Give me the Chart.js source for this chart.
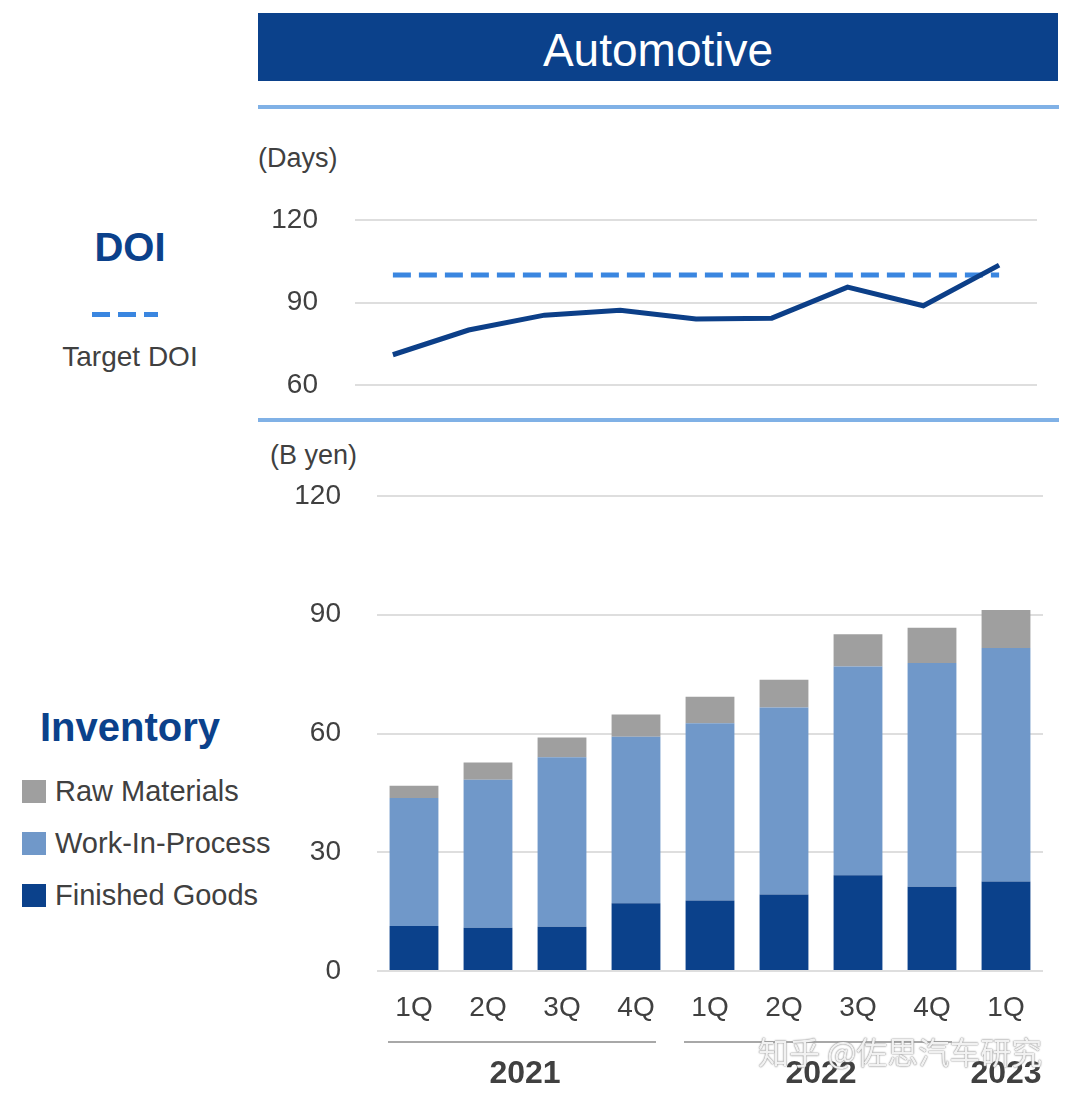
<!DOCTYPE html>
<html>
<head>
<meta charset="utf-8">
<script src="https://cdn.jsdelivr.net/npm/chart.js@4.4.0/dist/chart.umd.min.js"></script>
<style>
  body { margin: 0; background: #fff; width: 1080px; height: 1098px; position: relative; overflow: hidden;
         font-family: "Liberation Sans", Arial, sans-serif; color: #404040; }
  .abs { position: absolute; }
  #header { left: 258px; top: 13px; width: 800px; height: 68px; background: #0b418b; color: #fff;
            font-size: 46px; line-height: 74px; text-align: center; }
  .sep { left: 258px; width: 801px; height: 4px; background: #80b1e6; }
  .unit { font-size: 27px; }
  .ttl { font-weight: bold; color: #0b418b; font-size: 40px; text-align: center; width: 260px; left: 0; }
  .leg { left: 22px; font-size: 29px; }
  .leg span { display: inline-block; width: 24px; height: 23px; vertical-align: middle; margin-right: 9px; margin-top: -4px; }
  #wm { left: 758px; top: 1028px; font-family: "Noto Sans CJK SC", sans-serif; font-size: 31px; color: rgba(255,255,255,0.9);
        text-shadow: 0 0 1px #777, 0 0 2px #999; z-index: 5; }
</style>
</head>
<body>

<div id="header" class="abs">Automotive</div>
<div class="abs sep" style="top:105px"></div>
<div class="abs sep" style="top:418px"></div>

<div class="abs unit" style="left:258px; top:143px">(Days)</div>
<div class="abs unit" style="left:270px; top:440px">(B yen)</div>

<div class="abs ttl" style="top:225px">DOI</div>
<div class="abs" style="left:92px; top:312px; width:66px; height:5px;
     background: repeating-linear-gradient(to right, #3a86e0 0 18px, transparent 18px 26px);"></div>
<div class="abs" style="left:0; width:260px; text-align:center; top:341px; font-size:28px">Target DOI</div>

<div class="abs ttl" style="top:705px">Inventory</div>
<div class="abs leg" style="top:775px"><span style="background:#9f9f9f"></span>Raw Materials</div>
<div class="abs leg" style="top:827px"><span style="background:#7098c9"></span>Work-In-Process</div>
<div class="abs leg" style="top:879px"><span style="background:#0b418b"></span>Finished Goods</div>

<canvas id="doiChart" class="abs" style="left:250px; top:200px" width="800" height="200"></canvas>
<canvas id="invChart" class="abs" style="left:250px; top:480px" width="800" height="618"></canvas>

<div id="wm" class="abs">知乎 @佐思汽车研究</div>

<script>
// datos
const trimestres = ['1Q', '2Q', '3Q', '4Q', '1Q', '2Q', '3Q', '4Q', '1Q'];
const doi = [71.0, 80.0, 85.4, 87.2, 84.0, 84.3, 95.6, 88.8, 103.6];
const targetDoi = [100, 100, 100, 100, 100, 100, 100, 100, 100];

const finishedGoods = [11.4, 10.9, 11.2, 17.1, 17.8, 19.3, 24.2, 21.3, 22.6];
const workInProcess = [32.3, 37.4, 42.8, 42.1, 44.8, 47.3, 52.7, 56.5, 59.0];
const rawMaterials = [3.1, 4.4, 5.0, 5.6, 6.7, 7.0, 8.2, 8.9, 9.6];

const anios = ['2021', '2022', '2023'];
const anioDesde = [0, 4, 8];
const anioHasta = [3, 7, 8];
const doiTicks = [60, 90, 120];
const invTicks = [0, 30, 60, 90, 120];

Chart.defaults.font.family = '"Liberation Sans", Arial, sans-serif';
Chart.defaults.color = '#404040';
Chart.defaults.animation = false;

const gris = '#dedede';

// ancho fijo del eje y, sin el relleno vertical que agrega el padding de los ticks
function ejeFijo(ancho) {
    return (axis) => {
        axis.width = ancho;
        axis.paddingTop = 0;
        axis.paddingBottom = 0;
    };
}

// grafico de DOI
new Chart(document.getElementById('doiChart'), {
    type: 'line',
    data: {
        labels: trimestres,
        datasets: [{
            data: doi,
            borderColor: '#0c3f88',
            borderWidth: 5,
            pointRadius: 0,
            tension: 0,
            order: 0
        }, {
            data: targetDoi,
            borderColor: '#3a86e0',
            borderWidth: 5,
            borderDash: [18, 8],
            pointRadius: 0,
            order: 1
        }]
    },
    options: {
        responsive: false,
        devicePixelRatio: 1,
        layout: { padding: { top: 20, bottom: 15, right: 13, left: 0 } },
        plugins: { legend: { display: false }, tooltip: { enabled: false } },
        scales: {
            x: { display: false, offset: true },
            y: {
                min: 60, max: 120,
                afterBuildTicks: (axis) => { axis.ticks = doiTicks.map(v => ({ value: v })); },
                afterFit: ejeFijo(105),
                border: { display: false },
                grid: { color: gris, lineWidth: 2, drawTicks: false },
                ticks: { padding: 37, font: { size: 28 }, color: '#404040' }
            }
        }
    }
});

// lineas y etiquetas de anio bajo el eje
const aniosPlugin = {
    id: 'anios',
    afterDraw(chart) {
        const ctx = chart.ctx;
        const x = chart.scales.x;
        const base = chart.chartArea.bottom;
        ctx.save();
        anios.forEach((a, i) => {
            const x1 = x.getPixelForValue(anioDesde[i]);
            const x2 = x.getPixelForValue(anioHasta[i]);
            if (anioHasta[i] > anioDesde[i]) {
                ctx.strokeStyle = '#a8a8a8';
                ctx.lineWidth = 2;
                ctx.beginPath();
                ctx.moveTo(x1 - 26, base + 71);
                ctx.lineTo(x2 + 20, base + 71);
                ctx.stroke();
            }
            ctx.fillStyle = '#404040';
            ctx.font = 'bold 32px "Liberation Sans", Arial, sans-serif';
            ctx.textAlign = 'center';
            ctx.textBaseline = 'middle';
            ctx.fillText(a, (x1 + x2) / 2, base + 103);
        });
        ctx.restore();
    }
};

// grafico de inventario
new Chart(document.getElementById('invChart'), {
    type: 'bar',
    data: {
        labels: trimestres,
        datasets: [
            { label: 'Finished Goods', data: finishedGoods, backgroundColor: '#0b418b' },
            { label: 'Work-In-Process', data: workInProcess, backgroundColor: '#7098c9' },
            { label: 'Raw Materials', data: rawMaterials, backgroundColor: '#9f9f9f' }
        ]
    },
    options: {
        responsive: false,
        devicePixelRatio: 1,
        layout: { padding: { top: 16, bottom: 77, right: 7, left: 0 } },
        datasets: { bar: { categoryPercentage: 1, barPercentage: 0.66 } },
        plugins: { legend: { display: false }, tooltip: { enabled: false } },
        scales: {
            x: {
                stacked: true,
                afterFit: (axis) => { axis.height = 50; },
                border: { display: false },
                grid: { display: false, drawTicks: false },
                ticks: { padding: 20, font: { size: 28 }, color: '#404040', maxRotation: 0 }
            },
            y: {
                stacked: true,
                min: 0, max: 120,
                afterBuildTicks: (axis) => { axis.ticks = invTicks.map(v => ({ value: v })); },
                afterFit: ejeFijo(127),
                border: { display: false },
                grid: { color: gris, lineWidth: 2, drawTicks: false },
                ticks: { padding: 36, font: { size: 28 }, color: '#404040' }
            }
        }
    },
    plugins: [aniosPlugin]
});
</script>
</body>
</html>
